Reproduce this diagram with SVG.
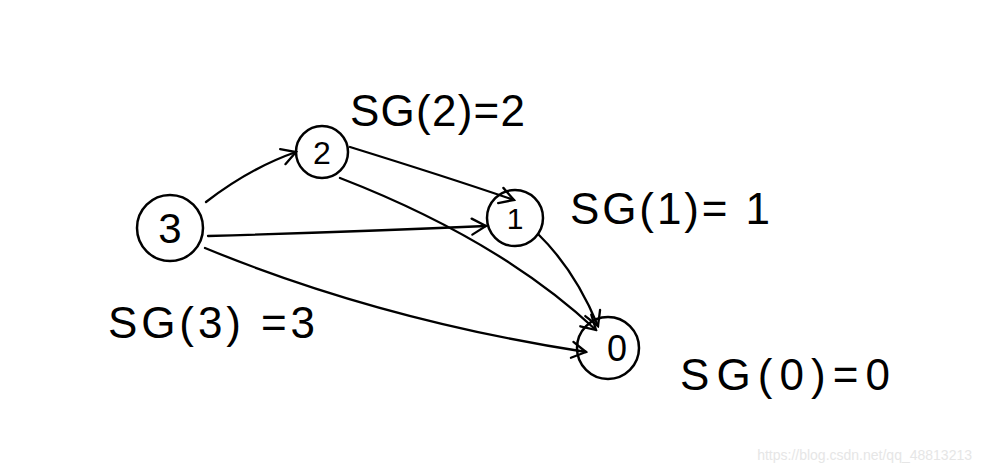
<svg xmlns="http://www.w3.org/2000/svg" width="982" height="474" viewBox="0 0 982 474">
<defs>
<style>
.n{fill:none;stroke:#000;stroke-width:2.5;stroke-linecap:round}
.e{fill:none;stroke:#000;stroke-width:2.3;stroke-linecap:round;marker-end:url(#ah)}
.t{font-family:"Liberation Sans",sans-serif;fill:#000}
.lbl{font-family:"Liberation Sans",sans-serif;fill:#000;font-size:44px}
</style>
<marker id="ah" viewBox="0 0 20 20" refX="18" refY="10" markerWidth="20" markerHeight="20" markerUnits="userSpaceOnUse" orient="auto">
<path d="M4,2 L18,10 L4,18" fill="none" stroke="#000" stroke-width="2.3" stroke-linecap="round"/>
</marker>
</defs>
<rect width="982" height="474" fill="#fff"/>
<g id="edges">
<path class="e" d="M206,202 Q250,168 296,152"/>
<path class="e" d="M350,147 Q450,178 514,200"/>
<path class="e" d="M208,236 Q350,232 486,226"/>
<path class="e" d="M340,178 Q500,240 596,330"/>
<path class="e" d="M205,248 Q380,320 586,352"/>
<path class="e" d="M538,234 Q575,270 598,326"/>
</g>
<g id="node3">
<circle class="n" cx="170" cy="228" r="33" stroke-width="4"/>
<text class="t" x="170" y="243" font-size="42" text-anchor="middle">3</text>
</g>
<g id="node2">
<circle class="n" cx="322" cy="152" r="26"/>
<text class="t" x="322" y="164" font-size="32" text-anchor="middle">2</text>
</g>
<g id="node1">
<circle class="n" cx="515" cy="218" r="28"/>
<text class="t" x="515" y="229" font-size="30" text-anchor="middle">1</text>
</g>
<g id="node0">
<circle class="n" cx="608" cy="348" r="31"/>
<text class="t" x="617" y="361" font-size="36" text-anchor="middle">0</text>
</g>
<g id="labels">
<text class="lbl" x="350" y="126" textLength="175" lengthAdjust="spacing">SG(2)=2</text>
<text class="lbl" x="570" y="224" font-size="48" textLength="200" lengthAdjust="spacing">SG(1)= 1</text>
<text class="lbl" x="108" y="338" font-size="50" textLength="207" lengthAdjust="spacing">SG(3) =3</text>
<text class="lbl" x="680" y="390" textLength="210" lengthAdjust="spacing">SG(0)=0</text>
</g>
<text x="972" y="460" text-anchor="end" font-family="Liberation Sans,sans-serif" font-size="14" fill="#e6e6e6">https://blog.csdn.net/qq_48813213</text>
</svg>
